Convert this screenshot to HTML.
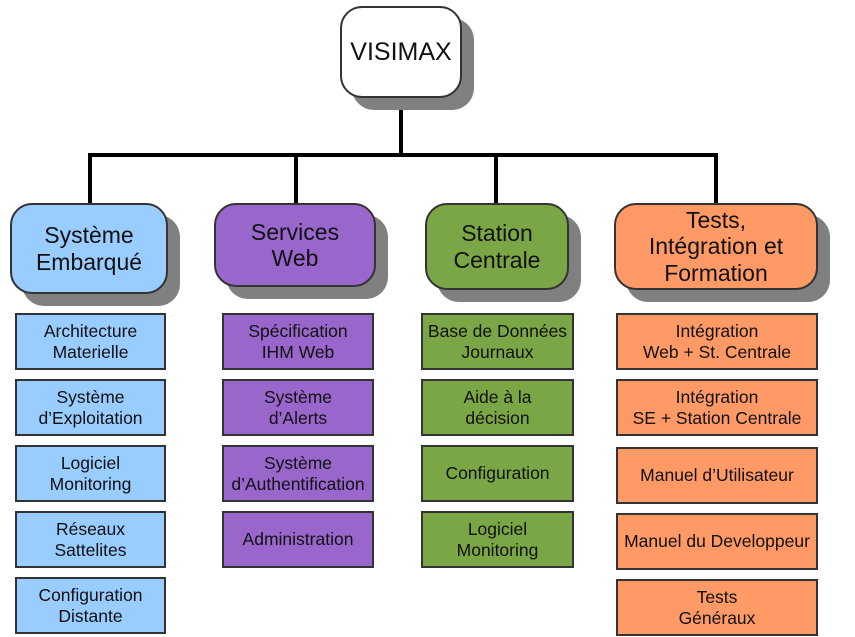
<!DOCTYPE html>
<html><head><meta charset="utf-8"><style>
body{margin:0;width:855px;height:637px;background:#fff;position:relative;overflow:hidden;font-family:"Liberation Sans",sans-serif;color:#111}
.b{position:absolute;box-sizing:border-box;border:2px solid #333;display:flex;align-items:center;justify-content:center;text-align:center;line-height:1.15}
.h{border-radius:22px;font-size:23px;box-shadow:12px 12px 0 #808080}
.s{font-size:17.5px;line-height:1.2}
.l{position:absolute;background:#000}
.bl{background:#99ccff}.pu{background:#9966cc}.gr{background:#7ba646}.or{background:#ff9966}
</style></head><body>
<div class="l" style="left:399px;top:96px;width:4px;height:61px"></div>
<div class="l" style="left:88px;top:153px;width:630px;height:4px"></div>
<div class="l" style="left:88px;top:153px;width:4px;height:52px"></div>
<div class="l" style="left:294px;top:153px;width:4px;height:52px"></div>
<div class="l" style="left:494px;top:153px;width:4px;height:52px"></div>
<div class="l" style="left:714px;top:153px;width:4px;height:52px"></div>

<div class="b h" style="left:340px;top:6px;width:122px;height:92px;background:#fff;font-size:25px">VISIMAX</div>

<div class="b h bl" style="left:10px;top:203px;width:158px;height:91px">Système<br>Embarqué</div>
<div class="b h pu" style="left:214px;top:203px;width:162px;height:84px">Services<br>Web</div>
<div class="b h gr" style="left:425px;top:203px;width:144px;height:87px">Station<br>Centrale</div>
<div class="b h or" style="left:614px;top:203px;width:204px;height:87px">Tests,<br>Intégration et<br>Formation</div>

<div class="b s bl" style="left:15px;top:313px;width:151px;height:57px">Architecture<br>Materielle</div>
<div class="b s bl" style="left:15px;top:379px;width:151px;height:57px">Système<br>d’Exploitation</div>
<div class="b s bl" style="left:15px;top:445px;width:151px;height:57px">Logiciel<br>Monitoring</div>
<div class="b s bl" style="left:15px;top:511px;width:151px;height:57px">Réseaux<br>Sattelites</div>
<div class="b s bl" style="left:15px;top:577px;width:151px;height:57px">Configuration<br>Distante</div>

<div class="b s pu" style="left:222px;top:313px;width:152px;height:57px">Spécification<br>IHM Web</div>
<div class="b s pu" style="left:222px;top:379px;width:152px;height:57px">Système<br>d’Alerts</div>
<div class="b s pu" style="left:222px;top:445px;width:152px;height:57px">Système<br>d’Authentification</div>
<div class="b s pu" style="left:222px;top:511px;width:152px;height:57px">Administration</div>

<div class="b s gr" style="left:421px;top:313px;width:153px;height:57px;white-space:nowrap">Base de Données<br>Journaux</div>
<div class="b s gr" style="left:421px;top:379px;width:153px;height:57px">Aide à la<br>décision</div>
<div class="b s gr" style="left:421px;top:445px;width:153px;height:57px">Configuration</div>
<div class="b s gr" style="left:421px;top:511px;width:153px;height:57px">Logiciel<br>Monitoring</div>

<div class="b s or" style="left:616px;top:313px;width:202px;height:57px">Intégration<br>Web + St. Centrale</div>
<div class="b s or" style="left:616px;top:379px;width:202px;height:57px">Intégration<br>SE + Station Centrale</div>
<div class="b s or" style="left:616px;top:447px;width:202px;height:57px">Manuel d’Utilisateur</div>
<div class="b s or" style="left:616px;top:513px;width:202px;height:57px;white-space:nowrap">Manuel du Developpeur</div>
<div class="b s or" style="left:616px;top:579px;width:202px;height:57px">Tests<br>Généraux</div>
</body></html>
